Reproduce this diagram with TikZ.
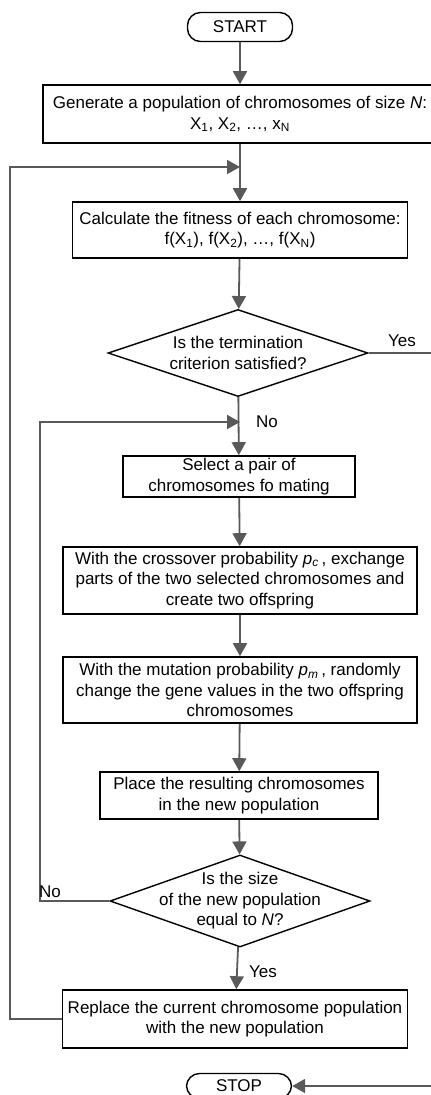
\documentclass[tikz,border=0pt]{standalone}
\usepackage{fontspec}
\setmainfont{Liberation Sans}
\usetikzlibrary{arrows.meta, shapes.geometric}

\tikzset{
	box/.style = {draw = black, line width = 1.6pt, rectangle, align = center, inner sep = 0pt},
	terminal/.style = {draw = black, line width = 1.4pt, rectangle, rounded corners = 13pt, align = center, inner sep = 0pt, minimum width = 105pt, minimum height = 29pt},
	decision/.style = {draw = black, line width = 1.4pt, diamond, inner sep = 0pt, minimum width = 260pt},
	flow/.style = {draw = black!65, line width = 1.8pt, -{Triangle[length = 13pt, width = 14pt]}},
	line/.style = {draw = black!65, line width = 1.8pt},
	answer/.style = {inner sep = 0pt}
}

\begin{document}
\begin{tikzpicture}[x = 1pt, y = 1pt, font = \fontsize{17}{20.5}\selectfont]
		\def\xMAX{431};
		\def\yMAX{1095};
		\def\xLOOPa{10};
		\def\xLOOPb{40};
		\def\xYES{433};

		\useasboundingbox (0,0) rectangle (\xMAX,-\yMAX);
		\clip (0,0) rectangle (\xMAX,-\yMAX);

		\node [terminal] (start) at (240,-27) {START};
		\node [box, minimum width = 394pt, minimum height = 58pt] (gen) at (240,-114)
			{Generate a population of chromosomes of size \textit{N}:\\X\textsubscript{1}, X\textsubscript{2}, \dots, x\textsubscript{N}};
		\node [box, minimum width = 335pt, minimum height = 56pt] (calc) at (240,-230)
			{Calculate the fitness of each chromosome:\\f(X\textsubscript{1}), f(X\textsubscript{2}), \dots, f(X\textsubscript{N})};
		\node [decision, minimum height = 87pt, label = {[align = center]center:Is the termination\\criterion satisfied?}] (term) at (238,-353) {};
		\node [box, minimum width = 232pt, minimum height = 41pt] (sel) at (239,-476.5)
			{Select a pair of\\chromosomes fo mating};
		\node [box, minimum width = 354pt, minimum height = 67pt] (cross) at (240,-580.5)
			{With the crossover probability \textit{p\textsubscript{c}}\,, exchange\\parts of the two selected chromosomes and\\create two offspring};
		\node [box, minimum width = 354pt, minimum height = 66pt] (mut) at (240,-690)
			{With the mutation probability \textit{p\textsubscript{m}}\,, randomly\\change the gene values in the two offspring\\chromosomes};
		\node [box, minimum width = 278pt, minimum height = 47pt] (place) at (239,-795.5)
			{Place the resulting chromosomes\\in the new population};
		\node [decision, minimum height = 92pt, label = {[align = center]center:Is the size\\of the new population\\equal to \textit{N}?}] (size) at (240,-901) {};
		\node [box, minimum width = 345pt, minimum height = 58pt] (repl) at (235,-1019)
			{Replace the current chromosome population\\with the new population};
		\node [terminal, minimum height = 25pt] (stop) at (239,-1086) {STOP};

		\coordinate (merge1) at (240,-167);
		\coordinate (merge2) at (240,-422);

		\draw [flow] (start) -- (gen);
		\draw [flow] (gen) -- (calc);
		\draw [flow] (calc) -- (term);
		\draw [flow] (term) -- (sel);
		\draw [flow] (sel) -- (cross);
		\draw [flow] (cross) -- (mut);
		\draw [flow] (mut) -- (place);
		\draw [flow] (place) -- (size);
		\draw [flow] (size) -- (repl);

		\draw [flow] (term.east) -- (\xYES,-353) |- (stop.east);
		\draw [flow] (size.west) -- (\xLOOPb,-901) |- (merge2);
		\draw [flow] (repl.west) -- (\xLOOPa,-1019) |- (merge1);

		\node [answer, anchor = south west] (yes1) at (388,-347) {Yes};
		\node [answer, anchor = west] (no1) at (256,-422) {No};
		\node [answer, anchor = south west] (no2) at (39,-898) {No};
		\node [answer, anchor = west] (yes2) at (249,-972) {Yes};
	\end{tikzpicture}
\end{document}
